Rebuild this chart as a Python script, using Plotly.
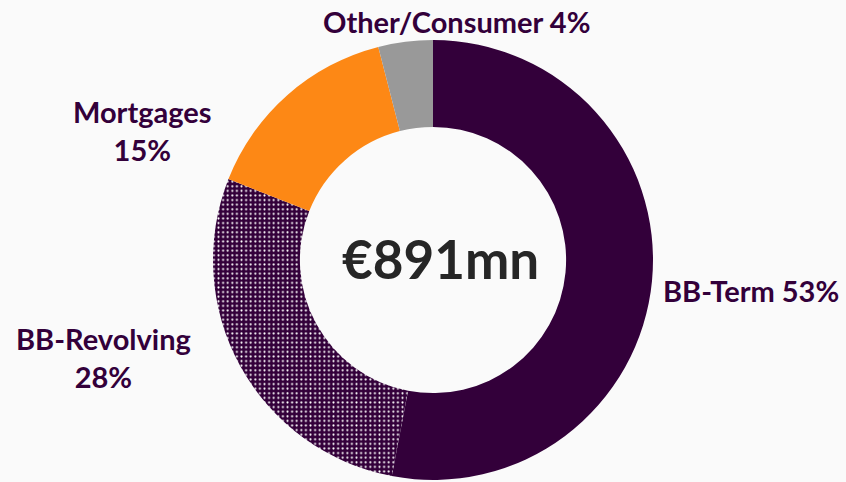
import plotly.graph_objects as go

categories = ["BB-Term", "BB-Revolving", "Mortgages", "Other/Consumer"]
values = [53, 28, 15, 4]
colors = ["#33003a", "#33003a", "#fd8815", "#999999"]
patterns = ["", ".", "", ""]
label_texts = ["BB-Term 53%", "BB-Revolving<br>28%", "Mortgages<br>15%", "Other/Consumer 4%"]
center_text = "€891mn"

W, H = 846, 482
cx, cy, R = 433, 260, 220

fig = go.Figure(go.Pie(
    labels=categories,
    values=values,
    sort=False,
    direction="clockwise",
    rotation=0,
    hole=0.605,
    textinfo="none",
    hoverinfo="label+percent",
    marker=dict(
        colors=colors,
        line=dict(width=0),
        pattern=dict(shape=patterns, fgcolor="#ffffff", bgcolor=colors, fgopacity=1,
                     size=4.6, solidity=0.16, fillmode="replace"),
    ),
    domain=dict(x=[(cx - R) / W, (cx + R) / W], y=[(H - cy - R) / H, (H - cy + R) / H]),
    showlegend=False,
))

label_font = dict(family="Lato, Carlito, sans-serif", size=29, color="#33003a", weight="bold")
label_pos = [(751, 290), (103, 357), (142, 131), (457, 22)]
for t, (x, y) in zip(label_texts, label_pos):
    fig.add_annotation(x=x / W, y=1 - y / H, xref="paper", yref="paper", text="<b>" + t + "</b>",
                       showarrow=False, font=label_font, xanchor="center", yanchor="middle", align="center")

fig.add_annotation(x=440 / W, y=1 - 258 / H, xref="paper", yref="paper", text="<b>" + center_text + "</b>",
                   showarrow=False, font=dict(family="Lato, Carlito, sans-serif", size=53, color="#262626"),
                   xanchor="center", yanchor="middle")

fig.update_layout(
    width=W, height=H,
    margin=dict(l=0, r=0, t=0, b=0),
    paper_bgcolor="#fafafa",
    plot_bgcolor="#fafafa",
)

fig.write_html("out.html", config={"displayModeBar": False},
               post_script="document.body.style.margin='0';document.body.style.background='#fafafa';")
